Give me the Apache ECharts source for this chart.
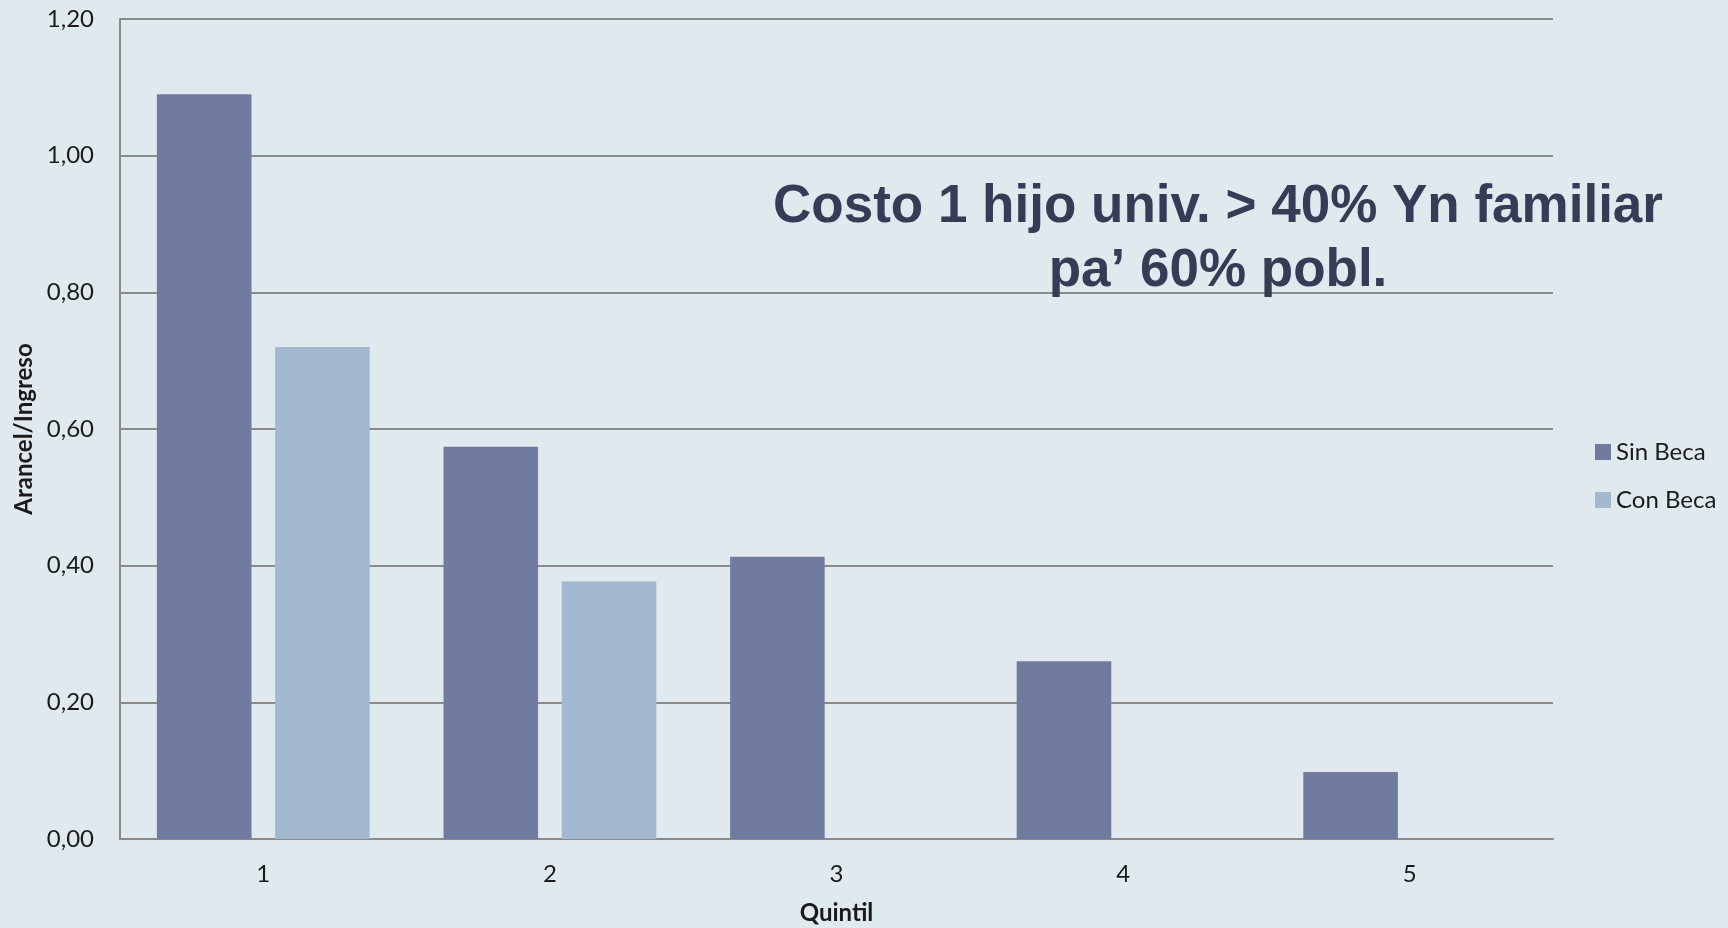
<!DOCTYPE html>
<html>
<head>
<meta charset="utf-8">
<script src="https://cdn.jsdelivr.net/npm/echarts@6/dist/echarts.min.js"></script>
<style>
  html, body { margin: 0; padding: 0; background: #dfe9ee; }
  #chart { width: 1728px; height: 928px; }
</style>
</head>
<body>
<div id="chart"></div>
<script>
const quintiles = ['1', '2', '3', '4', '5']
const sinBeca = [1.09, 0.574, 0.413, 0.26, 0.098]
const conBeca = [0.72, 0.377, null, null, null]
const yTicks = { min: 0, max: 1.2, interval: 0.2 }

const chart = echarts.init(document.getElementById('chart'))
const font = 'Lato, "Noto Sans", sans-serif'

chart.setOption({
  backgroundColor: '#dfe9ee',
  animation: false,
  title: {
    text: 'Costo 1 hijo univ. > 40% Yn familiar\npa\u2019 60% pobl.',
    left: 1213,
    top: 170,
    textAlign: 'center',
    textStyle: {
      fontFamily: '"Liberation Sans", Arial, sans-serif',
      fontWeight: 'bold',
      fontSize: 53,
      lineHeight: 64,
      color: '#363c55',
    },
  },
  legend: {
    orient: 'vertical',
    left: 1590,
    top: 435,
    itemWidth: 16,
    itemHeight: 16,
    itemGap: 24,
    icon: 'rect',
    textStyle: { fontFamily: font, fontSize: 24, color: '#1a1a1a' },
  },
  grid: {
    left: 120,
    right: 175,
    top: 19,
    bottom: 89,
    outerBoundsMode: 'none',
  },
  xAxis: {
    type: 'category',
    data: quintiles,
    name: 'Quintil',
    nameLocation: 'middle',
    nameGap: 62,
    nameTextStyle: { fontFamily: font, fontSize: 24, fontWeight: 'bold', color: '#1a1a1a' },
    axisLine: { lineStyle: { color: '#8a8a8a', width: 2 } },
    axisTick: { show: false },
    axisLabel: { fontFamily: font, fontSize: 24, color: '#1a1a1a', margin: 23 },
  },
  yAxis: {
    type: 'value',
    min: yTicks.min,
    max: yTicks.max,
    interval: yTicks.interval,
    name: 'Arancel/Ingreso',
    nameLocation: 'middle',
    nameRotate: 90,
    nameGap: 83,
    nameTextStyle: { fontFamily: font, fontSize: 24, fontWeight: 'bold', color: '#1a1a1a' },
    axisLine: { show: true, lineStyle: { color: '#8a8a8a', width: 2 } },
    axisTick: { show: false },
    splitLine: { lineStyle: { color: '#8a8a8a', width: 2 } },
    axisLabel: {
      fontFamily: font,
      fontSize: 24,
      color: '#1a1a1a',
      margin: 26,
      formatter: v => v.toFixed(2).replace('.', ','),
    },
  },
  series: [
    {
      name: 'Sin Beca',
      type: 'bar',
      data: sinBeca,
      barWidth: '33%',
      barGap: '25%',
      itemStyle: { color: '#717ba0' },
    },
    {
      name: 'Con Beca',
      type: 'bar',
      data: conBeca,
      barWidth: '33%',
      itemStyle: { color: '#a2b8cf' },
    },
  ],
})
</script>
</body>
</html>
